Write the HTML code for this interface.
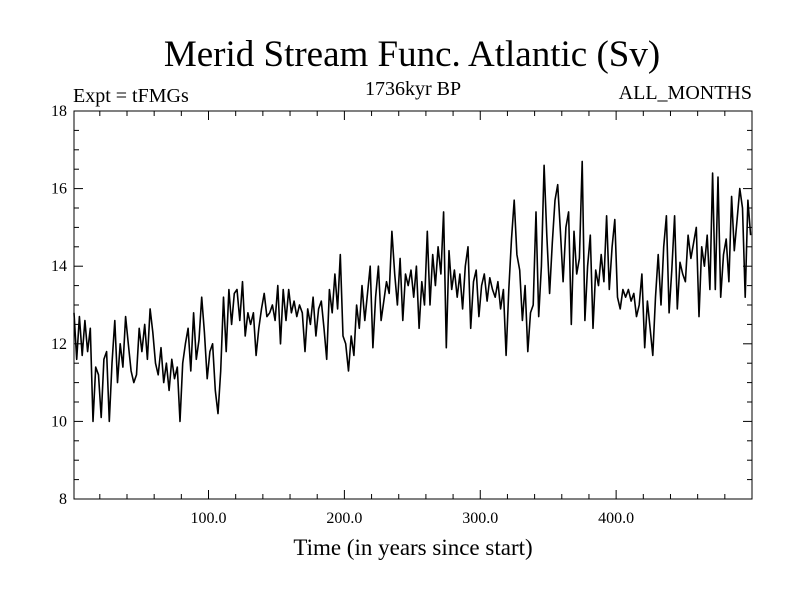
<!DOCTYPE html>
<html><head><meta charset="utf-8"><style>
body{margin:0;background:#fff;}
svg text{font-family:"Liberation Serif",serif;fill:#000;}
</style></head><body>
<svg id="chart" width="800" height="600" xmlns="http://www.w3.org/2000/svg">
<rect width="800" height="600" fill="#fff"/>
<text x="412" y="66" font-size="37" text-anchor="middle">Merid Stream Func. Atlantic (Sv)</text>
<text x="73" y="102" font-size="20">Expt = tFMGs</text>
<text x="413" y="95" font-size="20" text-anchor="middle">1736kyr BP</text>
<text x="752" y="99" font-size="20" text-anchor="end">ALL_MONTHS</text>
<text x="413" y="555" font-size="23" text-anchor="middle">Time (in years since start)</text>
<g id="axes"></g>
<path id="series" fill="none" stroke="#000" stroke-width="1.6" stroke-linejoin="round"/>
<rect x="74" y="111" width="678" height="388" fill="none" stroke="#000" stroke-width="1"/>
</svg>
<script>
const startYear = 1;
const yearStep = 2;
const values = [
12.8,11.6,12.7,11.7,12.6,11.8,12.4,10.0,11.4,11.2,
10.1,11.6,11.8,10.0,11.5,12.6,11.0,12.0,11.4,12.7,
12.0,11.3,11.0,11.2,12.4,11.8,12.5,11.6,12.9,12.3,
11.5,11.2,11.9,11.0,11.5,10.8,11.6,11.1,11.4,10.0,
11.5,12.0,12.4,11.3,12.8,11.6,12.1,13.2,12.3,11.1,
11.8,12.0,10.8,10.2,11.3,13.2,11.8,13.4,12.5,13.3,
13.4,12.6,13.6,12.2,12.8,12.5,12.8,11.7,12.4,12.9,
13.3,12.7,12.8,13.0,12.6,13.5,12.0,13.4,12.6,13.4,
12.8,13.1,12.7,13.0,12.8,11.8,12.9,12.5,13.2,12.2,
12.9,13.1,12.4,11.6,13.4,12.8,13.8,12.9,14.3,12.2,
12.0,11.3,12.2,11.7,13.0,12.4,13.5,12.6,13.3,14.0,
11.9,13.2,14.0,12.6,13.1,13.6,13.3,14.9,13.8,13.0,
14.2,12.6,13.8,13.5,13.9,13.2,14.0,12.4,13.6,13.0,
14.9,13.0,14.3,13.5,14.5,13.8,15.4,11.9,14.4,13.4,
13.9,13.2,13.8,12.9,14.0,14.5,12.4,13.6,13.9,12.7,
13.5,13.8,13.1,13.7,13.4,13.2,13.6,12.9,13.4,11.7,
13.4,14.7,15.7,14.3,13.9,12.6,13.5,11.8,12.8,13.0,
15.4,12.7,14.0,16.6,14.8,13.3,14.6,15.7,16.1,14.9,
13.6,15.0,15.4,12.5,14.9,13.8,14.2,16.7,12.6,14.0,
14.8,12.4,13.9,13.5,14.3,13.6,15.3,13.4,14.5,15.2,
13.2,12.9,13.4,13.2,13.4,13.1,13.3,12.7,13.0,13.8,
11.9,13.1,12.4,11.7,13.2,14.3,13.0,14.5,15.3,12.8,
13.9,15.3,12.9,14.1,13.8,13.6,14.8,14.2,14.6,15.0,
12.7,14.5,14.0,14.8,13.4,16.4,13.4,16.3,13.2,14.3,
14.7,13.6,15.8,14.4,15.2,16.0,15.5,13.2,15.7,14.8
];
const yTickValues = [8,10,12,14,16,18];
const yTickLabels = ["8","10","12","14","16","18"];
const xTickValues = [100,200,300,400];
const xTickLabels = ["100.0","200.0","300.0","400.0"];

const X0=74,X1=752,Y0=499,Y1=111,XMIN=1,XMAX=500,YMIN=8,YMAX=18;
const sx=v=>X0+(v-XMIN)/(XMAX-XMIN)*(X1-X0);
const sy=v=>Y0-(v-YMIN)/(YMAX-YMIN)*(Y0-Y1);
const NS="http://www.w3.org/2000/svg";
const axes=document.getElementById('axes');
function line(x1,y1,x2,y2,name){
  const l=document.createElementNS(NS,'line');
  l.setAttribute('x1',x1);l.setAttribute('y1',y1);l.setAttribute('x2',x2);l.setAttribute('y2',y2);
  l.setAttribute('stroke','#000');l.setAttribute('stroke-width','1');
  
  
  axes.appendChild(l);
}
function text(x,y,s,anchor,name){
  const t=document.createElementNS(NS,'text');
  t.setAttribute('x',x);t.setAttribute('y',y);t.setAttribute('font-size','16');t.setAttribute('text-anchor',anchor);
  t.textContent=s;
  
  
  axes.appendChild(t);
}
for(let v=YMIN;v<=YMAX+1e-9;v+=0.5){
  const y=sy(v);const major=Math.abs(v-Math.round(v/2)*2)<1e-9;const L=major?9:5;
  line(X0,y,X0+L,y,'y-tick');line(X1-L,y,X1,y,'y-tick-right');
}
yTickValues.forEach((v,i)=>text(X0-7,sy(v)+5,yTickLabels[i],'end','y-tick-label'));
for(let v=20;v<XMAX;v+=20){
  const x=sx(v);const major=v%100===0;const L=major?9:5;
  line(x,Y0,x,Y0-L,'x-tick');line(x,Y1,x,Y1+L,'x-tick-top');
}
xTickValues.forEach((v,i)=>text(sx(v),Y0+24,xTickLabels[i],'middle','x-tick-label'));
let d='';
values.forEach((v,i)=>{d+=(i?'L':'M')+sx(startYear+i*yearStep).toFixed(1)+','+sy(v).toFixed(1);});
document.getElementById('series').setAttribute('d',d);
</script>
</body></html>
